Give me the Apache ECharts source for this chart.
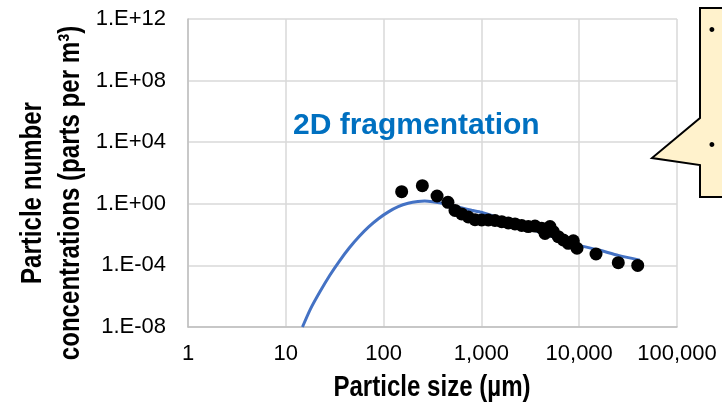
<!DOCTYPE html>
<html>
<head>
<meta charset="utf-8">
<script src="https://cdn.jsdelivr.net/npm/echarts@6/dist/echarts.min.js"></script>
<style>
  html, body { margin: 0; padding: 0; background: #fff; }
  #chart { width: 722px; height: 409px; }
</style>
</head>
<body>
<div id="chart"></div>
<script>
// Measured particle counts: size (µm) and number concentration (parts per m³)
const measuredSize = [153, 249, 352, 455, 537, 629, 735, 861, 1007, 1177, 1377, 1614, 1884,
  2206, 2583, 3019, 3532, 4137, 4470, 5028, 5433, 6111, 6876, 7739, 8710, 9500, 14860, 25100, 39650];
const measuredConc = [6.1, 15, 3.2, 1.25, 0.37, 0.22, 0.139, 0.093, 0.089, 0.089, 0.082, 0.069, 0.057,
  0.049, 0.039, 0.033, 0.036, 0.026, 0.012, 0.033, 0.0154, 0.0073, 0.0045, 0.0027, 0.0040, 0.0013,
  0.00055, 0.00015, 0.0001];

// Modelled size distribution (2D fragmentation)
const modelSize = [14.8, 17.8, 22.4, 28.2, 35.5, 44.7, 56.2, 70.8, 89.1, 112, 141, 178, 224, 263,
  316, 398, 501, 631, 794, 1000, 1585, 2512, 3981, 6310, 10000, 15850, 25120, 41690];
const modelConc = [1e-8, 1.4e-7, 2.0e-6, 2.3e-5, 2.0e-4, 1.4e-3, 7.6e-3, 0.033, 0.112, 0.30, 0.65,
  1.08, 1.43, 1.51, 1.38, 1.10, 0.76, 0.54, 0.38, 0.28, 0.107, 0.040, 0.014, 0.005, 0.002, 0.001,
  4.5e-4, 2.2e-4];

// Axis ranges
const xRange = [1, 100000];
const yRange = [1e-8, 1e12];

const xTitle = 'Particle size (µm)';
const yTitleLines = ['Particle number', 'concentrations (parts per m³)'];
const annotation = '2D fragmentation';

function sciLabel(v) {
  const e = Math.round(Math.log10(v));
  const a = Math.abs(e);
  return '1.E' + (e < 0 ? '-' : '+') + (a < 10 ? '0' : '') + a;
}
function commaLabel(v) {
  return Math.round(v).toLocaleString('en-US');
}

const zip = (a, b) => a.map((v, i) => [v, b[i]]);

const labelFont = { fontFamily: 'Liberation Sans, Arial, sans-serif', fontSize: 22, color: '#000' };
// Bold titles, narrowed horizontally to a condensed face
const titleFont = 'bold 29px "Liberation Sans", Arial, sans-serif';
const narrow = 0.83;

const chart = echarts.init(document.getElementById('chart'), null, { renderer: 'canvas' });
chart.setOption({
  animation: false,
  backgroundColor: '#fff',
  grid: { left: 188, right: 45, top: 19, bottom: 82, containLabel: false },
  xAxis: {
    type: 'log', logBase: 10, min: xRange[0], max: xRange[1], splitNumber: 5,
    axisLine: { show: true, lineStyle: { color: '#BFBFBF', width: 1.5 } },
    axisTick: { show: false },
    splitLine: { show: true, lineStyle: { color: '#D9D9D9', width: 1.5 } },
    axisLabel: Object.assign({ margin: 16, formatter: commaLabel, showMinLabel: true, showMaxLabel: true }, labelFont)
  },
  yAxis: {
    type: 'log', logBase: 10000, min: yRange[0], max: yRange[1], splitNumber: 5,
    axisLine: { show: true, lineStyle: { color: '#BFBFBF', width: 1.5 } },
    axisTick: { show: false },
    splitLine: { show: true, lineStyle: { color: '#D9D9D9', width: 1.5 } },
    axisLabel: Object.assign({ margin: 22, formatter: sciLabel, showMinLabel: true, showMaxLabel: true }, labelFont)
  },
  series: [
    {
      type: 'line', data: zip(modelSize, modelConc), showSymbol: false, smooth: 0.2,
      lineStyle: { color: '#4472C4', width: 3 }, z: 2, clip: true
    },
    {
      type: 'scatter', data: zip(measuredSize, measuredConc), symbol: 'circle', symbolSize: 13,
      itemStyle: { color: '#000', opacity: 1 }, z: 3
    }
  ],
  graphic: [
    {
      type: 'text', x: 432, y: 388, scaleX: narrow, z: 100,
      style: { text: xTitle, font: titleFont, fill: '#000', align: 'center', verticalAlign: 'middle' }
    },
    {
      type: 'text', x: 52, y: 193, rotation: Math.PI / 2, scaleX: narrow, z: 100,
      style: { text: yTitleLines.join('\n'), font: titleFont, lineHeight: 38, fill: '#000',
        align: 'center', verticalAlign: 'middle' }
    },
    {
      type: 'text', x: 293, y: 126, z: 100,
      style: { text: annotation, font: 'bold 30px "Liberation Sans", Arial, sans-serif', fill: '#0070C0',
        align: 'left', verticalAlign: 'middle' }
    },
    {
      type: 'polygon', z: 100,
      shape: { points: [[700, 8], [740, 8], [740, 197], [700, 197], [700, 165], [652, 158], [700, 118]] },
      style: { fill: '#FFF2CC', stroke: '#000', lineWidth: 2 }
    },
    {
      type: 'text', z: 101, x: 712, y: 31,
      style: { text: '•', font: '18px "Liberation Sans", Arial, sans-serif', fill: '#000', align: 'center', verticalAlign: 'middle' }
    },
    {
      type: 'text', z: 101, x: 712, y: 146,
      style: { text: '•', font: '18px "Liberation Sans", Arial, sans-serif', fill: '#000', align: 'center', verticalAlign: 'middle' }
    }
  ]
});
</script>
</body>
</html>
